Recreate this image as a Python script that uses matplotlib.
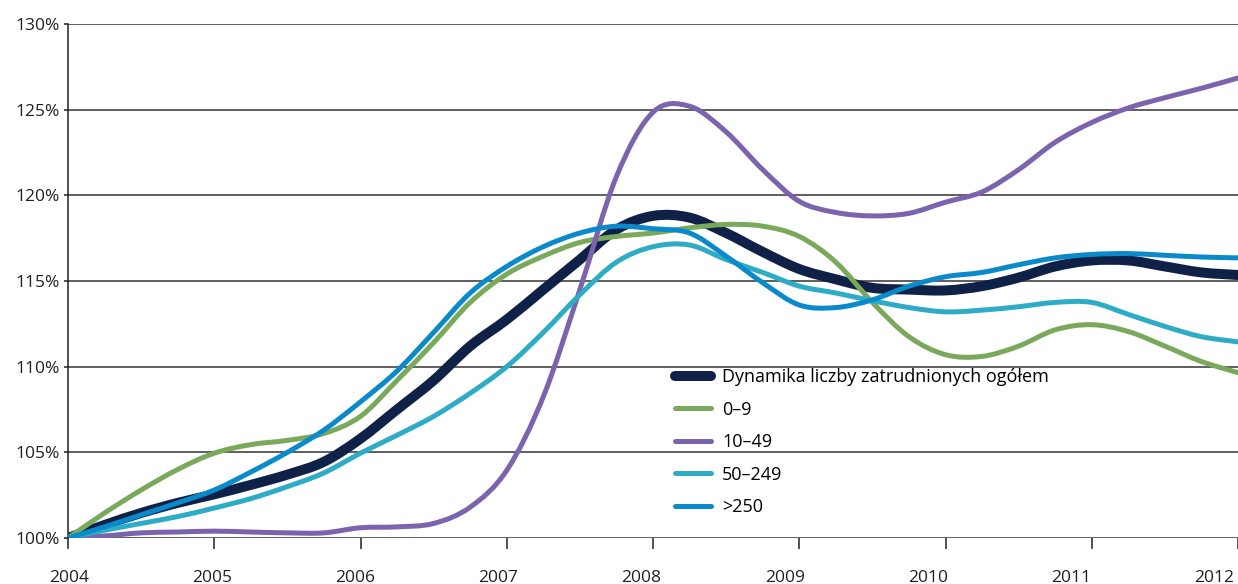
#!/usr/bin/env python3

import matplotlib.pyplot as plt
import numpy as np
from matplotlib.path import Path
from matplotlib.patches import PathPatch
from matplotlib.lines import Line2D

plt.rcParams['font.family'] = ['Open Sans', 'DejaVu Sans']

# quarterly points 2004.00 .. 2012.00
years = np.arange(2004, 2012.01, 0.25)

total = [100.0, 100.76, 101.46, 102.05, 102.55, 103.1, 103.7, 104.45, 105.8,
         107.5, 109.2, 111.2, 112.75, 114.5, 116.25, 118.0, 118.8,
         118.7, 117.8, 116.7, 115.7, 115.1, 114.6, 114.5, 114.45,
         114.7, 115.2, 115.85, 116.2, 116.2, 115.85, 115.5, 115.35]
micro = [100.0, 101.46, 102.8, 104.0, 104.95, 105.45, 105.7, 106.1, 107.1,
         109.2, 111.4, 113.75, 115.4, 116.45, 117.25, 117.6, 117.8,
         118.1, 118.3, 118.2, 117.6, 116.1, 113.75, 111.75, 110.7,
         110.6, 111.2, 112.15, 112.45, 112.05, 111.2, 110.3, 109.65]
small = [100.0, 100.12, 100.3, 100.35, 100.4, 100.35, 100.3, 100.3, 100.6,
         100.65, 100.85, 101.8, 103.95, 108.25, 114.5, 121.1, 124.85,
         125.2, 123.7, 121.5, 119.65, 119.0, 118.8, 118.95, 119.6,
         120.2, 121.5, 123.1, 124.25, 125.1, 125.7, 126.25, 126.85]
medium = [100.0, 100.45, 100.85, 101.25, 101.75, 102.3, 103.0, 103.8, 104.95,
          106.0, 107.1, 108.45, 110.0, 112.0, 114.2, 116.1, 117.0,
          117.1, 116.25, 115.5, 114.7, 114.3, 113.85, 113.45, 113.2,
          113.3, 113.5, 113.75, 113.75, 113.05, 112.35, 111.75, 111.45]
large = [100.0, 100.65, 101.35, 102.05, 102.8, 103.85, 105.0, 106.3, 107.95,
         109.75, 112.0, 114.3, 115.85, 117.0, 117.8, 118.2, 118.05,
         117.8, 116.45, 114.9, 113.6, 113.45, 113.9, 114.7, 115.25,
         115.5, 115.95, 116.35, 116.55, 116.6, 116.5, 116.4, 116.35]

labels = ['Dynamika liczby zatrudnionych ogółem', '0–9', '10–49', '50–249', '>250']
colors = ['#0f2147', '#7aa95c', '#7b63ad', '#2eacc6', '#0a8acb']
widths = [7.2, 3.6, 3.6, 3.6, 3.6]
year_ticks = list(range(2004, 2013))
pct_ticks = [100, 105, 110, 115, 120, 125, 130]


def smooth_path(x, y):
    # catmull-rom style smoothing drawn as cubic bezier curves (like excel "smoothed line")
    p = np.column_stack([x, y])
    verts = [p[0]]
    codes = [Path.MOVETO]
    n = len(p)
    for i in range(n - 1):
        p0 = p[i - 1] if i > 0 else p[i]
        p3 = p[i + 2] if i + 2 < n else p[i + 1]
        c1 = p[i] + (p[i + 1] - p0) / 6
        c2 = p[i + 1] - (p3 - p[i]) / 6
        verts += [c1, c2, p[i + 1]]
        codes += [Path.CURVE4] * 3
    return Path(verts, codes)


fig = plt.figure(figsize=(12.38, 5.84), dpi=100)
ax = fig.add_axes([68 / 1238, 1 - 538 / 584, 1 - 68 / 1238, 514 / 584])

for i, series in enumerate([total, micro, small, medium, large]):
    patch = PathPatch(smooth_path(years, series), fill=False, edgecolor=colors[i],
                      lw=widths[i], capstyle='round', joinstyle='round', zorder=3 + i)
    ax.add_patch(patch)

ax.set_xlim(2004, 2012)
ax.set_ylim(100, 130)
ax.set_yticks(pct_ticks)
ax.set_yticklabels(['%d%%' % p for p in pct_ticks])
ax.set_xticks(year_ticks)
ax.set_xticklabels([])
# year labels sit slightly left of their tick marks in the original
for i, yr in enumerate(year_ticks):
    ax.text(2004.01 + i * 0.978, -0.063, str(yr), transform=ax.get_xaxis_transform(),
            ha='center', va='top', fontsize=12.5, color='#231f20')
ax.grid(axis='y', color='#333333', lw=1.1)
ax.set_axisbelow(True)
for s in ['top', 'right', 'bottom']:
    ax.spines[s].set_visible(False)
ax.spines['left'].set_color('#222222')
ax.spines['left'].set_linewidth(1.1)
ax.tick_params(axis='y', length=3, width=1.1, pad=3, labelsize=12.5, colors='#231f20')
ax.tick_params(axis='x', length=8, width=1.1, colors='#222222')

handles = [Line2D([], [], color=c, lw=w, solid_capstyle='round') for c, w in zip(colors, widths)]
ax.legend(handles, labels, loc='upper left', bbox_to_anchor=(0.505, 0.362),
          frameon=False, fontsize=13, handlelength=2.0, labelspacing=0.8,
          handletextpad=0.6)

plt.savefig('out.png', dpi=100)
